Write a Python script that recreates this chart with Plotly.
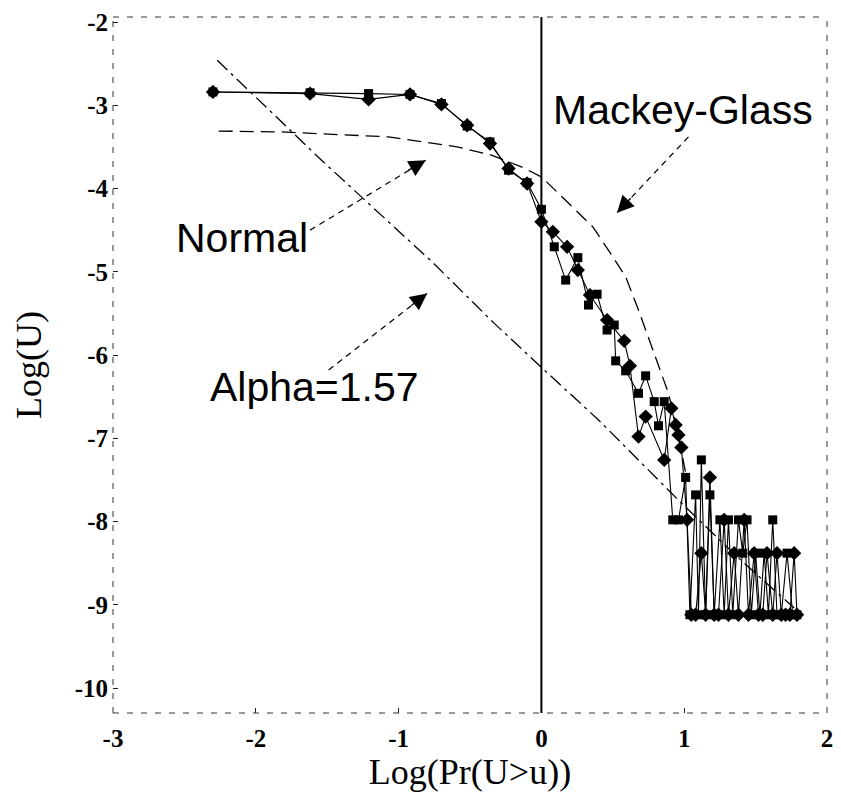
import plotly.graph_objects as go

# Square-marker series
sq_x = [-2.30, -1.62, -1.21, -0.92, -0.70, -0.52, -0.36, -0.23, -0.10, 0.00,
        0.09, 0.17, 0.255, 0.33, 0.39, 0.46, 0.51, 0.52, 0.59, 0.68,
        0.73, 0.79, 0.82, 0.86, 0.92, 0.96, 1.01, 1.04, 1.08, 1.10,
        1.12, 1.15, 1.18, 1.21, 1.25, 1.28, 1.31, 1.34, 1.38, 1.41,
        1.44, 1.47, 1.50, 1.53, 1.56, 1.59, 1.62, 1.65, 1.68, 1.72,
        1.76, 1.79]
sq_y = [-2.84, -2.85, -2.86, -2.87, -2.98, -3.25, -3.44, -3.78, -3.93, -4.25,
        -4.70, -5.10, -4.83, -5.40, -5.27, -5.70, -5.64, -6.07, -6.19, -6.46,
        -6.25, -6.56, -6.85, -6.56, -7.98, -7.98, -7.47, -9.12, -7.68, -9.12,
        -7.26, -9.12, -7.68, -9.12, -7.98, -9.12, -7.98, -9.12, -7.98, -8.38,
        -7.98, -9.12, -8.38, -9.12, -8.38, -9.12, -7.98, -9.12, -9.12, -8.38,
        -9.12, -9.12]

# Diamond-marker series
di_x = [-2.30, -1.62, -1.21, -0.92, -0.70, -0.52, -0.36, -0.23, -0.10, 0.00,
        0.08, 0.18, 0.255, 0.34, 0.46, 0.58, 0.62, 0.68, 0.73, 0.86,
        0.91, 0.94, 0.96, 0.98, 1.02, 1.05, 1.08, 1.12, 1.15, 1.18,
        1.21, 1.24, 1.28, 1.31, 1.35, 1.38, 1.42, 1.45, 1.49, 1.52,
        1.55, 1.58, 1.62, 1.65, 1.68, 1.71, 1.74, 1.77, 1.79]
di_y = [-2.84, -2.86, -2.93, -2.87, -2.99, -3.24, -3.46, -3.76, -3.94, -4.40,
        -4.52, -4.70, -4.98, -5.28, -5.58, -5.83, -6.13, -6.98, -6.74, -7.26,
        -6.64, -6.84, -6.96, -7.11, -7.98, -9.12, -9.12, -8.38, -9.12, -7.47,
        -9.12, -9.12, -7.98, -9.12, -8.38, -9.12, -7.98, -9.12, -8.38, -9.12,
        -9.12, -8.38, -9.12, -8.38, -9.12, -9.12, -9.12, -8.38, -9.12]

# Normal-distribution reference curve
normal_x = [-2.26, -1.83, -1.07, -0.59, -0.35, -0.14, 0.00, 0.17, 0.36, 0.50,
            0.59, 0.68, 0.77, 0.84, 0.89, 0.95, 1.02]
normal_y = [-3.31, -3.32, -3.38, -3.50, -3.60, -3.74, -3.86, -4.14, -4.46, -4.82,
            -5.06, -5.46, -5.90, -6.22, -6.46, -6.90, -7.50]

# Stable law, alpha = 1.57
alpha_x = [-2.27, -1.54, -0.76, -0.33, 0.02, 0.40, 0.94, 1.375, 1.77]
alpha_y = [-2.46, -3.66, -4.89, -5.62, -6.18, -6.78, -7.71, -8.43, -9.04]

x_ticks = [-3, -2, -1, 0, 1, 2]
y_ticks = [-2, -3, -4, -5, -6, -7, -8, -9, -10]

fig = go.Figure()

fig.add_trace(go.Scatter(
    x=normal_x, y=normal_y, mode="lines",
    line=dict(color="black", width=1.3, dash="14px,7px"), hoverinfo="skip"))
fig.add_trace(go.Scatter(
    x=alpha_x, y=alpha_y, mode="lines",
    line=dict(color="black", width=1.3, dash="14px,5px,3px,5px"), hoverinfo="skip"))
fig.add_trace(go.Scatter(
    x=di_x, y=di_y, mode="lines+markers",
    line=dict(color="black", width=1.1),
    marker=dict(symbol="diamond", size=11, color="black")))
fig.add_trace(go.Scatter(
    x=sq_x, y=sq_y, mode="lines+markers",
    line=dict(color="black", width=1.1),
    marker=dict(symbol="square", size=9, color="black")))

# Frame drawn as dashed edges
frame = dict(color="#333", width=1, dash="6px,8px")
shapes = [
    dict(type="line", xref="x domain", yref="y domain", x0=0, x1=0, y0=0, y1=1, line=frame),
    dict(type="line", xref="x domain", yref="y domain", x0=1, x1=1, y0=0, y1=1, line=frame),
    dict(type="line", xref="x domain", yref="y domain", x0=0, x1=1, y0=0, y1=0, line=frame),
    dict(type="line", xref="x domain", yref="y domain", x0=0, x1=1, y0=1, y1=1, line=frame),
    # zero line
    dict(type="line", xref="x", yref="y domain", x0=0, x1=0, y0=0, y1=1,
         line=dict(color="black", width=2)),
]

# Dashed arrow shafts: (tail, tip, head offset in px)
arrows = [
    ((-1.62, -4.50), (-0.81, -3.66), (-19, 11)),
    ((-1.49, -6.18), (-0.80, -5.26), (-17, 13)),
    ((1.03, -3.38), (0.53, -4.29), (15, -16)),
]
annotations = []
for (tx, ty), (hx, hy), (ax, ay) in arrows:
    shapes.append(dict(type="line", xref="x", yref="y", x0=tx, y0=ty, x1=hx, y1=hy,
                       line=dict(color="black", width=1.2, dash="6px,5px")))
    annotations.append(dict(x=hx, y=hy, xref="x", yref="y", text="", showarrow=True,
                            ax=ax, ay=ay, arrowhead=2, arrowsize=2.4, arrowwidth=1.4,
                            arrowcolor="black"))

label_font = dict(family="Liberation Sans, Arial, sans-serif", size=41, color="black")
annotations += [
    dict(x=0.99, y=-3.06, xref="x", yref="y", text="Mackey-Glass", showarrow=False, font=label_font),
    dict(x=-2.10, y=-4.60, xref="x", yref="y", text="Normal", showarrow=False, font=label_font),
    dict(x=-1.59, y=-6.38, xref="x", yref="y", text="Alpha=1.57", showarrow=False, font=label_font),
]

tick_font = dict(family="Liberation Serif, Times New Roman, serif", size=25, color="black")
title_font = dict(family="Liberation Serif, Times New Roman, serif", size=36, color="black")

fig.update_layout(
    width=841, height=796,
    margin=dict(l=113, r=8, t=17, b=83),
    paper_bgcolor="white", plot_bgcolor="white",
    showlegend=False,
    shapes=shapes, annotations=annotations,
    xaxis=dict(range=[-3, 2], tickvals=x_ticks, ticktext=[f"<b>{v}</b>" for v in x_ticks],
               showgrid=False, zeroline=False, ticks="inside", ticklen=5, tickcolor="#222",
               tickfont=tick_font, ticklabelstandoff=8,
               title=dict(text="Log(Pr(U>u))", font=title_font, standoff=0)),
    yaxis=dict(range=[-10.3, -1.94], tickvals=y_ticks, ticktext=[f"<b>{v}</b>" for v in y_ticks],
               showgrid=False, zeroline=False, ticks="inside", ticklen=5, tickcolor="#222",
               tickfont=tick_font, ticklabelstandoff=4,
               title=dict(text="Log(U)", font=title_font, standoff=22)),
)

fig.write_html("out.html")
